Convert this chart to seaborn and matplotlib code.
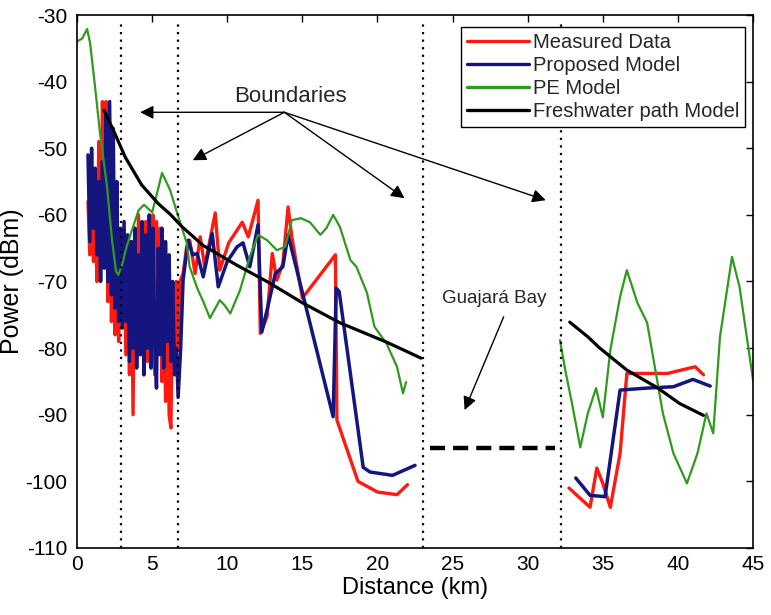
import pandas as pd
import matplotlib
matplotlib.use('Agg')
import matplotlib.pyplot as plt
import seaborn as sns

# ---------------- data ----------------
# measured data, river part (0.7 - 22 km)
measured_km = [0.73, 0.85, 0.97, 1.09, 1.21, 1.33, 1.45, 1.57, 1.69, 1.81, 1.93, 2.05, 2.17,
               2.29, 2.41, 2.53, 2.65, 2.77, 2.89, 3.01, 3.13, 3.25, 3.37, 3.49, 3.61, 3.73,
               3.85, 3.97, 4.09, 4.21, 4.33, 4.45, 4.57, 4.69, 4.81, 4.93, 5.05, 5.17, 5.29,
               5.41, 5.53, 5.65, 5.77, 5.89, 6.01, 6.13, 6.25, 6.37, 6.49, 6.61, 6.73, 6.85,
               7.06, 7.3, 7.5, 7.86, 8.2, 8.5, 9.2, 9.5, 10.1, 11.0, 11.4, 12.05, 12.2, 12.65,
               13.0, 13.3, 13.7, 14.05, 14.3, 15.0, 17.2, 17.3, 18.7, 20.0, 21.3, 22.0]
measured_dbm = [-58, -66, -59, -67, -60, -70, -49, -66, -43, -60, -43, -73, -56,
                -76, -62, -78, -68, -79, -70, -75, -66, -81, -68, -84, -64, -90,
                -62, -82, -60, -80, -65, -84, -61, -82, -62, -79, -60, -84, -61,
                -78, -62, -85, -66, -88, -68, -90, -92, -72, -84, -70, -80, -70,
                -68.8, -64.8, -63.8, -68.8, -63.3, -67.8, -59.7, -68.3, -64.2, -61.1, -63.3,
                -57.8, -77.8, -75.3, -65.8, -69.8, -67.3, -58.8, -63.3, -72.5, -66.0, -90.8,
                -100.0, -101.6, -102.0, -100.5]

# proposed model, river part
proposed_km = [0.73, 0.85, 0.97, 1.09, 1.21, 1.33, 1.45, 1.57, 1.69, 1.81, 1.93, 2.05, 2.17,
               2.29, 2.41, 2.53, 2.65, 2.77, 2.89, 3.01, 3.13, 3.25, 3.37, 3.49, 3.61, 3.73,
               3.85, 3.97, 4.09, 4.21, 4.33, 4.45, 4.57, 4.69, 4.81, 4.93, 5.05, 5.17, 5.29,
               5.41, 5.53, 5.65, 5.77, 5.89, 6.01, 6.13, 6.25, 6.37, 6.49, 6.61, 6.73, 6.9,
               7.06, 7.4, 7.7, 8.0, 8.4, 9.0, 9.4, 10.0, 10.65, 11.05, 11.5, 12.05, 12.3,
               12.7, 13.2, 13.7, 14.05, 17.05, 17.25, 17.45, 19.05, 19.5, 21.0, 22.5]
proposed_dbm = [-51, -64, -50, -62, -53, -66, -55, -70, -52, -68, -45, -70, -43,
                -72, -47, -74, -55, -76, -62, -77, -61, -76, -63, -82, -64, -80,
                -62, -83, -66, -81, -61, -84, -63, -80, -60, -83, -62, -79, -86,
                -65, -81, -62, -83, -64, -79, -66, -82, -70, -84, -80, -87.4, -80,
                -69.8, -63.8, -66, -65.8, -69.3, -62.8, -70.8, -67, -64.8, -64.2, -67.8,
                -61.5, -77.6, -73.8, -68.8, -67.8, -63.0, -90.3, -71.0, -71.5, -97.9, -98.6,
                -99.1, -97.6]

# PE model, river part
pe_km = [0.0, 0.35, 0.67, 0.87, 1.2, 1.53, 2.0, 2.33, 2.6, 2.75, 3.0, 3.3, 3.7, 4.1, 4.46,
         5.0, 5.3, 5.66, 6.2, 6.66, 7.3, 7.5, 8.0, 8.4, 8.85, 9.5, 9.8, 10.2, 10.85, 11.5,
         12.05, 12.65, 13.3, 13.85, 14.3, 14.9, 15.5, 16.2, 16.6, 17.05, 17.5, 18.2, 18.6,
         19.3, 19.8, 20.6, 21.3, 21.7, 21.9]
pe_dbm = [-34.0, -33.5, -32.1, -34.2, -40.8, -47.7, -55.8, -63.8, -68.5, -69.0, -67.5, -64.8,
          -62.0, -59.3, -58.5, -59.6, -57.0, -53.7, -56.3, -59.7, -64.2, -67.8, -71.0, -73.0,
          -75.5, -72.8, -73.5, -74.8, -71.3, -66.3, -63.0, -63.8, -65.3, -64.8, -60.8, -60.5,
          -61.1, -63.0, -62.0, -60.0, -61.8, -66.8, -67.8, -71.7, -76.8, -79.3, -82.8, -86.8, -85.1]

# freshwater path model, river part
fresh_km = [1.8, 2.5, 3.2, 4.3, 5.4, 6.2, 7.0, 8.4, 10.6, 12.8, 15.0, 17.5, 20.6, 22.9]
fresh_dbm = [-44.3, -47.7, -51.3, -55.5, -58.3, -59.9, -61.8, -64.6, -67.5, -70.2, -73.2,
             -76.2, -79.1, -81.5]

# after Guajara Bay (32 - 45 km)
measured_bay_km = [32.75, 34.15, 34.6, 35.0, 35.5, 36.15, 36.6, 39.3, 41.15, 41.7]
measured_bay_dbm = [-101.0, -103.9, -98.0, -100.3, -103.9, -95.8, -83.8, -83.8, -82.8, -84.0]
proposed_bay_km = [33.2, 34.15, 35.15, 36.15, 37.95, 39.7, 41.0, 42.15]
proposed_bay_dbm = [-99.5, -102.1, -102.3, -86.3, -86.0, -85.8, -84.7, -85.7]
pe_bay_km = [32.15, 32.5, 32.95, 33.5, 34.0, 34.55, 35.0, 35.5, 36.15, 36.6, 37.3, 37.95,
             38.5, 39.0, 39.7, 40.6, 41.3, 41.9, 42.35, 42.8, 43.6, 44.1, 45.0]
pe_bay_dbm = [-78.8, -83.3, -88.3, -94.9, -89.8, -86.0, -90.4, -80.3, -72.3, -68.3, -73.2,
              -76.2, -83.3, -89.8, -95.8, -100.3, -95.8, -89.8, -92.8, -78.3, -66.3, -70.8, -84.8]
fresh_bay_km = [32.8, 34.0, 34.8, 36.6, 38.6, 40.1, 41.7]
fresh_bay_dbm = [-76.1, -78.3, -80.0, -83.3, -85.9, -88.3, -90.1]

# bay gap level and boundary positions
gap_km = [23.5, 31.8]
gap_dbm = [-95, -95]
boundaries_km = [2.9, 6.7, 23.0, 32.2]

labels = ['Measured Data', 'Proposed Model', 'PE Model', 'Freshwater path Model']
colors = ['#ff1a10', '#15157f', '#2f9a1c', '#000000']

# ---------------- plot ----------------
sns.set_theme(style='white')
plt.rcParams['font.family'] = ['Liberation Sans', 'DejaVu Sans']
plt.rcParams['axes.unicode_minus'] = False

fig = plt.figure(figsize=(7.71, 6.15), dpi=100)
ax = fig.add_axes([0.0999, 0.109, 0.8768, 0.8666])

series = [
    (measured_km, measured_dbm, measured_bay_km, measured_bay_dbm, 2.4),
    (proposed_km, proposed_dbm, proposed_bay_km, proposed_bay_dbm, 2.5),
    (pe_km, pe_dbm, pe_bay_km, pe_bay_dbm, 1.6),
    (fresh_km, fresh_dbm, fresh_bay_km, fresh_bay_dbm, 2.3),
]
for (xa, ya, xb, yb, lw), lab, col in zip(series, labels, colors):
    sns.lineplot(x=xa, y=ya, estimator=None, sort=False, color=col, lw=lw, ax=ax, label=lab)
    sns.lineplot(x=xb, y=yb, estimator=None, sort=False, color=col, lw=lw, ax=ax)

# boundaries
for b in boundaries_km:
    ax.axvline(b, color='black', lw=1.6, ls=(0, (1, 2.4)), ymax=0.985)

# bay gap
sns.lineplot(x=gap_km, y=gap_dbm, estimator=None, color='black', lw=3.2, ax=ax)
ax.lines[-1].set_dashes([3.4, 1.8])

# annotations
ax.text(14.2, -42.3, 'Boundaries', fontsize=16, ha='center', va='center')
arrow = dict(arrowstyle='-|>', color='black', lw=1.0, mutation_scale=20, shrinkA=0, shrinkB=0)
for tx, ty in [(4.2, -44.6), (7.7, -51.8), (21.8, -57.5), (31.2, -57.8)]:
    ax.annotate('', xy=(tx, ty), xytext=(13.8, -44.6), arrowprops=arrow)
ax.text(27.8, -72.5, 'Guajará Bay', fontsize=13.5, ha='center', va='center')
ax.annotate('', xy=(25.8, -89.3), xytext=(28.4, -75.3), arrowprops=arrow)

ax.set_xlim(0, 45)
ax.set_ylim(-110, -30)
ax.set_xticks(range(0, 46, 5))
ax.set_yticks(range(-110, -29, 10))
ax.tick_params(direction='in', top=True, right=True, length=5, width=1, labelsize=15,
               colors='black')
ax.tick_params(axis='y', pad=7)
ax.tick_params(axis='x', pad=5)
for sp in ax.spines.values():
    sp.set_color('black')
    sp.set_linewidth(1.2)
ax.set_xlabel('Distance (km)', fontsize=17, color='black', labelpad=2)
ax.set_ylabel('Power (dBm)', fontsize=18, color='black')
ax.yaxis.set_label_coords(-0.079, 0.5)

handles = ax.get_legend_handles_labels()[0][:4]
leg = ax.legend(handles, labels, loc='upper right', bbox_to_anchor=(0.988, 0.977),
                borderaxespad=0, fontsize=14.5, frameon=True, fancybox=False, framealpha=1,
                edgecolor='black', handlelength=3.1, handletextpad=0.15, labelspacing=0.2,
                borderpad=0.3)
leg.get_frame().set_linewidth(1.0)
for h in leg.get_lines():
    h.set_linewidth(2.4)

fig.savefig('out.png', dpi=100)
